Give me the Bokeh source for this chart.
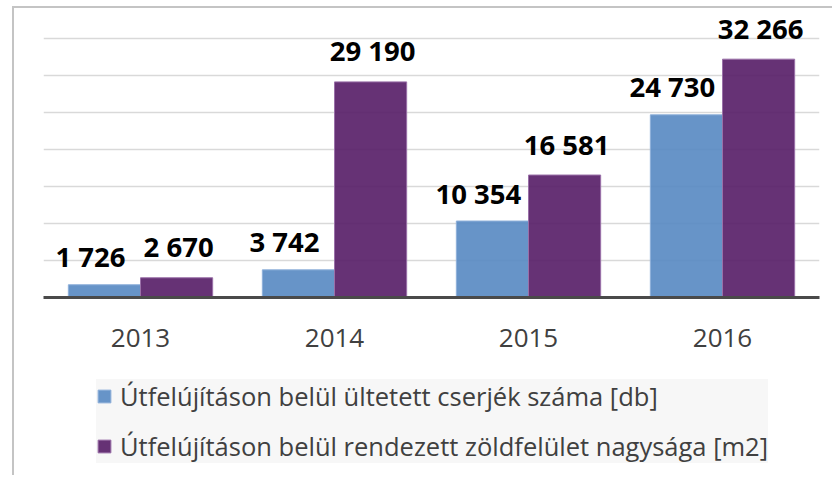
from bokeh.plotting import figure
from bokeh.layouts import column
from bokeh.models import FactorRange, Range1d, FixedTicker, LabelSet, ColumnDataSource, Legend, LegendItem
from bokeh.core.properties import value
from bokeh.transform import dodge
from bokeh.embed import file_html
from bokeh.resources import INLINE

years = ["2013", "2014", "2015", "2016"]
shrubs = [1726, 3742, 10354, 24730]
green_area = [2670, 29190, 16581, 32266]
series_names = ["Útfelújításon belül ültetett cserjék száma [db]",
                "Útfelújításon belül rendezett zöldfelület nagysága [m2]"]
grid_ticks = [0, 5000, 10000, 15000, 20000, 25000, 30000, 35000]

def fmt(v):
    return f"{v:,}".replace(",", " ")

src = ColumnDataSource(dict(
    years=years, shrubs=shrubs, green=green_area,
    shrubs_txt=[fmt(v) for v in shrubs], green_txt=[fmt(v) for v in green_area],
))

BORDER = "2px solid #c4c4c4"
p = figure(frame_width=774, frame_height=277, x_range=FactorRange(*years), y_range=Range1d(0, 37770),
           output_backend="svg", toolbar_location=None,
           min_border_left=29, min_border_right=15, min_border_top=10, min_border_bottom=70,
           margin=(6, 0, 0, 12),
           styles={"border-left": BORDER, "border-top": BORDER})
p.background_fill_color = "white"
p.border_fill_color = "white"
p.outline_line_color = None

bw = 0.372
blue = "#5688c2"
purple = "#551c66"
bar_styles = [dict(fill_color=blue, fill_alpha=0.9, line_color="#8fb0da", line_width=1),
              dict(fill_color=purple, fill_alpha=0.9, line_color="#9a70a8", line_width=1)]

def add_bars(fig):
    a = fig.vbar(x=dodge("years", -bw / 2, range=fig.x_range), top="shrubs", width=bw, source=src,
                 **bar_styles[0])
    b = fig.vbar(x=dodge("years", bw / 2, range=fig.x_range), top="green", width=bw, source=src,
                 **bar_styles[1])
    return a, b

add_bars(p)

lab_kw = dict(text_font=value("Open Sans"), text_font_style="bold", text_font_size="27.5px",
              text_color="black", text_align="center", text_baseline="middle", source=src)
p.add_layout(LabelSet(x=dodge("years", -bw / 2, range=p.x_range), y="shrubs", text="shrubs_txt",
                      x_offset=-14, y_offset=28, **lab_kw))
p.add_layout(LabelSet(x=dodge("years", bw / 2, range=p.x_range), y="green", text="green_txt",
                      x_offset=2, y_offset=31, **lab_kw))

p.yaxis.visible = False
p.xgrid.grid_line_color = None
p.ygrid.ticker = FixedTicker(ticks=grid_ticks)
p.ygrid.grid_line_color = "#d9d9d9"
p.ygrid.grid_line_width = 1.5

xa = p.xaxis[0]
xa.axis_line_color = "#4a4a4a"
xa.axis_line_width = 3
xa.major_tick_line_color = None
xa.minor_tick_line_color = None
xa.major_label_text_font = "Open Sans"
xa.major_label_text_font_size = "26px"
xa.major_label_text_color = "#404040"
xa.major_label_standoff = 25

# legend strip below the chart (same bars, kept far out of view, only for the legend keys)
q = figure(width=818, height=110, x_range=p.x_range, y_range=Range1d(1e6, 1.1e6),
           output_backend="svg", toolbar_location=None,
           min_border_left=0, min_border_right=0, min_border_top=0, min_border_bottom=0,
           margin=(0, 0, 0, 12), styles={"border-left": BORDER})
q.axis.visible = False
q.grid.grid_line_color = None
q.outline_line_color = None
q.background_fill_color = "white"
q.border_fill_color = "white"
k1, k2 = add_bars(q)

lg = Legend(items=[LegendItem(label=series_names[0], renderers=[k1]),
                   LegendItem(label=series_names[1], renderers=[k2])],
            location=(53, 12.5), orientation="vertical")
lg.background_fill_color = "#f7f7f7"
lg.background_fill_alpha = 1
lg.border_line_color = None
lg.label_text_font = "Open Sans"
lg.label_text_font_size = "25.5px"
lg.label_text_color = "#404040"
lg.glyph_width = 16
lg.glyph_height = 16
lg.label_height = 30
lg.label_standoff = 8
lg.spacing = 16
lg.padding = 5
lg.margin = 0
q.add_layout(lg, "center")

open("out.html", "w").write(file_html(column(p, q, spacing=0), INLINE))
